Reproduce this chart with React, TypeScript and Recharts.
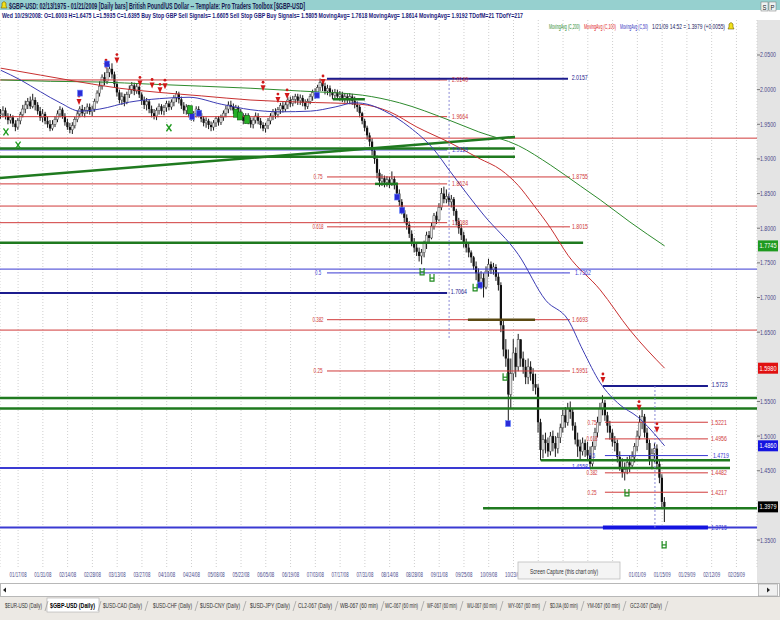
import React from 'react';
import { ComposedChart, Bar, Line, XAxis, YAxis, CartesianGrid, ReferenceLine, ReferenceDot } from 'recharts';

// daily bars, index 0 = 01/09/08 ... 268 = 01/21/09
const highs = [
  1.972, 1.976, 1.974, 1.966, 1.965, 1.963, 1.956, 1.959, 1.968, 1.978,
  1.984, 1.988, 1.990, 1.994, 1.989, 1.982, 1.975, 1.972, 1.968, 1.961,
  1.956, 1.956, 1.962, 1.970, 1.976, 1.974, 1.966, 1.958, 1.952, 1.953,
  1.961, 1.970, 1.976, 1.978, 1.975, 1.980, 1.980, 1.977, 1.987, 1.999,
  2.012, 2.022, 2.025, 2.032, 2.037, 2.038, 2.026, 2.012, 2.000, 1.996,
  1.994, 1.997, 2.006, 2.011, 2.010, 2.009, 2.006, 1.996, 1.990, 1.988,
  1.986, 1.977, 1.972, 1.974, 1.980, 1.979, 1.978, 1.984, 1.984, 1.986,
  1.992, 1.998, 1.997, 1.990, 1.982, 1.979, 1.978, 1.971, 1.969, 1.976,
  1.976, 1.970, 1.962, 1.960, 1.958, 1.954, 1.956, 1.962, 1.962, 1.964,
  1.970, 1.977, 1.983, 1.984, 1.980, 1.978, 1.977, 1.972, 1.966, 1.966,
  1.966, 1.960, 1.960, 1.967, 1.966, 1.959, 1.953, 1.952, 1.959, 1.966,
  1.972, 1.973, 1.975, 1.981, 1.982, 1.982, 1.989, 1.990, 1.991, 1.994,
  1.994, 1.993, 1.992, 1.986, 1.987, 1.994, 2.000, 2.002, 2.007, 2.016,
  2.013, 2.010, 2.007, 2.006, 2.000, 2.001, 2.000, 1.998, 1.997, 1.995,
  1.994, 1.995, 1.994, 1.990, 1.983, 1.978, 1.968, 1.958, 1.948, 1.938,
  1.930, 1.916, 1.905, 1.885, 1.878, 1.876, 1.875, 1.874, 1.882, 1.875,
  1.866, 1.856, 1.842, 1.830, 1.820, 1.810, 1.797, 1.786, 1.780, 1.772,
  1.770, 1.782, 1.795, 1.796, 1.808, 1.822, 1.824, 1.836, 1.858, 1.860,
  1.856, 1.850, 1.848, 1.845, 1.828, 1.815, 1.806, 1.795, 1.785, 1.778,
  1.768, 1.760, 1.752, 1.742, 1.738, 1.735, 1.745, 1.756, 1.752, 1.750,
  1.748, 1.736, 1.722, 1.668, 1.640, 1.625, 1.612, 1.640, 1.628, 1.6475,
  1.640, 1.622, 1.610, 1.612, 1.608, 1.598, 1.590, 1.575, 1.525, 1.502,
  1.505, 1.498, 1.506, 1.508, 1.500, 1.505, 1.518, 1.538, 1.542, 1.548,
  1.550, 1.540, 1.520, 1.505, 1.495, 1.498, 1.495, 1.492, 1.485, 1.492,
  1.512, 1.528, 1.548, 1.559, 1.552, 1.535, 1.522, 1.510, 1.500, 1.495,
  1.478, 1.468, 1.462, 1.470, 1.472, 1.478, 1.490, 1.508, 1.530, 1.538,
  1.532, 1.512, 1.495, 1.482, 1.490, 1.488, 1.465, 1.445, 1.412,
];
const lows = [
  1.958, 1.960, 1.957, 1.950, 1.951, 1.946, 1.940, 1.942, 1.950, 1.960,
  1.966, 1.972, 1.972, 1.973, 1.970, 1.964, 1.955, 1.953, 1.950, 1.945,
  1.940, 1.941, 1.946, 1.953, 1.960, 1.958, 1.948, 1.942, 1.937, 1.936,
  1.944, 1.953, 1.960, 1.962, 1.960, 1.965, 1.964, 1.962, 1.968, 1.980,
  1.990, 2.000, 2.006, 2.008, 2.018, 2.016, 2.003, 1.990, 1.980, 1.978,
  1.976, 1.979, 1.988, 1.994, 1.992, 1.994, 1.988, 1.978, 1.972, 1.970,
  1.966, 1.960, 1.957, 1.956, 1.964, 1.964, 1.963, 1.968, 1.970, 1.971,
  1.976, 1.982, 1.980, 1.972, 1.965, 1.964, 1.960, 1.955, 1.954, 1.960,
  1.960, 1.953, 1.947, 1.945, 1.943, 1.940, 1.941, 1.946, 1.948, 1.949,
  1.955, 1.960, 1.966, 1.970, 1.965, 1.963, 1.962, 1.957, 1.950, 1.951,
  1.950, 1.945, 1.944, 1.951, 1.950, 1.944, 1.940, 1.938, 1.943, 1.950,
  1.956, 1.958, 1.960, 1.965, 1.967, 1.968, 1.972, 1.975, 1.976, 1.980,
  1.978, 1.978, 1.976, 1.971, 1.972, 1.979, 1.984, 1.987, 1.990, 1.998,
  1.998, 1.993, 1.992, 1.990, 1.986, 1.987, 1.985, 1.984, 1.982, 1.981,
  1.980, 1.979, 1.978, 1.973, 1.968, 1.960, 1.950, 1.940, 1.928, 1.918,
  1.905, 1.893, 1.872, 1.860, 1.861, 1.859, 1.860, 1.858, 1.861, 1.856,
  1.845, 1.832, 1.820, 1.808, 1.798, 1.786, 1.774, 1.765, 1.760, 1.752,
  1.748, 1.758, 1.770, 1.778, 1.784, 1.798, 1.806, 1.810, 1.826, 1.836,
  1.836, 1.832, 1.830, 1.818, 1.804, 1.792, 1.783, 1.772, 1.765, 1.758,
  1.750, 1.740, 1.725, 1.715, 1.712, 1.700, 1.712, 1.730, 1.734, 1.733,
  1.724, 1.710, 1.650, 1.615, 1.600, 1.520, 1.540, 1.580, 1.585, 1.5935,
  1.600, 1.590, 1.575, 1.575, 1.580, 1.565, 1.560, 1.505, 1.465, 1.468,
  1.475, 1.470, 1.472, 1.478, 1.470, 1.475, 1.490, 1.505, 1.512, 1.515,
  1.525, 1.508, 1.488, 1.470, 1.465, 1.472, 1.470, 1.465, 1.452, 1.456,
  1.480, 1.498, 1.515, 1.530, 1.522, 1.505, 1.495, 1.485, 1.478, 1.462,
  1.450, 1.440, 1.436, 1.445, 1.448, 1.455, 1.462, 1.478, 1.495, 1.510,
  1.498, 1.480, 1.458, 1.452, 1.462, 1.452, 1.432, 1.395, 1.376,
];
const closes = [
  1.965, 1.970, 1.962, 1.956, 1.960, 1.951, 1.946, 1.955, 1.964, 1.972,
  1.978, 1.983, 1.976, 1.985, 1.978, 1.969, 1.960, 1.965, 1.955, 1.950,
  1.944, 1.950, 1.957, 1.965, 1.971, 1.962, 1.953, 1.946, 1.942, 1.948,
  1.957, 1.965, 1.972, 1.966, 1.970, 1.975, 1.968, 1.972, 1.983, 1.995,
  2.005, 2.018, 2.012, 2.025, 2.030, 2.022, 2.008, 1.996, 1.985, 1.990,
  1.982, 1.993, 2.000, 2.006, 1.998, 2.004, 1.993, 1.985, 1.978, 1.983,
  1.972, 1.966, 1.962, 1.970, 1.976, 1.969, 1.974, 1.980, 1.975, 1.982,
  1.988, 1.994, 1.986, 1.977, 1.970, 1.975, 1.966, 1.960, 1.965, 1.972,
  1.966, 1.958, 1.952, 1.955, 1.949, 1.946, 1.952, 1.958, 1.953, 1.960,
  1.966, 1.972, 1.978, 1.975, 1.970, 1.974, 1.968, 1.962, 1.955, 1.962,
  1.956, 1.950, 1.956, 1.962, 1.955, 1.949, 1.944, 1.948, 1.955, 1.962,
  1.968, 1.964, 1.971, 1.977, 1.972, 1.978, 1.985, 1.980, 1.986, 1.990,
  1.984, 1.988, 1.981, 1.976, 1.983, 1.990, 1.996, 1.992, 2.003, 2.010,
  2.005, 1.998, 2.002, 1.996, 1.992, 1.996, 1.990, 1.993, 1.987, 1.990,
  1.985, 1.990, 1.984, 1.978, 1.975, 1.966, 1.955, 1.945, 1.934, 1.925,
  1.912, 1.900, 1.880, 1.868, 1.872, 1.866, 1.870, 1.864, 1.871, 1.862,
  1.850, 1.838, 1.826, 1.815, 1.805, 1.792, 1.780, 1.772, 1.766, 1.760,
  1.765, 1.778, 1.790, 1.786, 1.803, 1.818, 1.812, 1.830, 1.850, 1.842,
  1.846, 1.838, 1.842, 1.825, 1.810, 1.800, 1.790, 1.778, 1.772, 1.765,
  1.758, 1.745, 1.735, 1.722, 1.728, 1.715, 1.738, 1.748, 1.740, 1.744,
  1.730, 1.718, 1.660, 1.625, 1.612, 1.560, 1.590, 1.620, 1.600, 1.6395,
  1.612, 1.600, 1.585, 1.600, 1.590, 1.575, 1.570, 1.520, 1.480, 1.495,
  1.490, 1.478, 1.500, 1.490, 1.482, 1.498, 1.512, 1.530, 1.520, 1.540,
  1.535, 1.515, 1.495, 1.485, 1.478, 1.490, 1.480, 1.472, 1.460, 1.485,
  1.505, 1.520, 1.540, 1.548, 1.530, 1.515, 1.505, 1.492, 1.490, 1.470,
  1.455, 1.448, 1.452, 1.462, 1.458, 1.470, 1.485, 1.500, 1.520, 1.528,
  1.505, 1.490, 1.465, 1.475, 1.482, 1.460, 1.440, 1.405, 1.398,
];

// moving averages: [bar index, value]
const ma200 = [[0, 2.014], [20, 2.012], [40, 2.011], [60, 2.008], [81, 2.005], [101, 2.002], [121, 1.998], [146, 1.992], [161, 1.981], [181, 1.956], [193, 1.939], [209, 1.9192], [222, 1.891], [234, 1.861], [242, 1.841], [254, 1.809], [268, 1.7745]];
const ma100 = [[0, 2.031], [16, 2.021], [32, 2.011], [48, 2.002], [64, 1.996], [81, 1.991], [101, 1.985], [121, 1.982], [145, 1.979], [157, 1.968], [168, 1.946], [181, 1.924], [193, 1.901], [202, 1.884], [209, 1.8614], [215, 1.834], [222, 1.8], [229, 1.761], [242, 1.711], [254, 1.653], [268, 1.598]];
const ma50 = [[0, 2.028], [8, 2.014], [16, 1.997], [24, 1.981], [32, 1.969], [40, 1.972], [52, 1.982], [64, 1.987], [76, 1.989], [89, 1.979], [101, 1.971], [113, 1.968], [125, 1.969], [135, 1.975], [143, 1.981], [149, 1.978], [155, 1.969], [165, 1.946], [175, 1.913], [181, 1.884], [195, 1.819], [209, 1.7618], [220, 1.696], [229, 1.668], [235, 1.624], [242, 1.577], [250, 1.545], [257, 1.528], [268, 1.486]];

const dateTicks = [7, 17, 27, 37, 47, 57, 67, 77, 87, 97, 107, 117, 127, 137, 147, 157, 167, 177, 187, 197, 207, 217, 227, 237, 247, 257, 267, 277, 287, 297];
// the four labels under the "Screen Capture" popup are not visible
const dateLabels = ['01/17/08', '01/31/08', '02/14/08', '02/28/08', '03/13/08', '03/27/08', '04/10/08', '04/24/08', '05/08/08', '05/22/08', '06/05/08', '06/19/08', '07/03/08', '07/17/08', '07/31/08', '08/14/08', '08/28/08', '09/11/08', '09/25/08', '10/09/08', '10/23/08', '', '', '', '', '01/01/09', '01/15/09', '01/29/09', '02/12/09', '02/26/09'];
// 1.4000 and 1.6000 sit under the value boxes
const priceTicks = [1.35, 1.45, 1.5, 1.55, 1.65, 1.7, 1.75, 1.8, 1.85, 1.9, 1.95, 2.0, 2.05];

// price levels (bar-index ranges)
const leftRange = [-0.3, 180.2];
const leftRed = [2.014, 1.961, 1.864, 1.808];
const leftRedTxt = ['2.0140', '1.9664', '1.8624', '1.8088'];
const fib1Range = [131.7, 229.8];
const fib1Red = [1.874, 1.802, 1.668, 1.594];
const fib1RedTxt = ['1.8755', '1.8015', '1.6693', '1.5951'];
const fib2Range = [243.9, 285.5];
const fib2Red = [1.52, 1.496, 1.447, 1.419];
const fib2RedTxt = ['1.5221', '1.4956', '1.4482', '1.4217'];
const ratioTxt = ['0.75', '0.618', '0.382', '0.25'];
const fullRed = [1.93, 1.832, 1.653];
const fullBlue = [1.741, 1.368];
const fullGreen = [1.555, 1.54];
// [from, to, price, label]
const blueSegs: [number, number, number, string][] = [
  [-0.3, 180.2, 1.913, '1.9119'],
  [131.7, 229.8, 1.7355, '1.7362'],
  [243.9, 285.5, 1.4719, '1.4719'],
];
const navySegs: [number, number, number, string][] = [
  [131.7, 229.0, 2.0157, '2.0157'],
  [-0.3, 180.2, 1.7065, '1.7064'],
  [243.1, 285.5, 1.5723, '1.5723'],
  [-0.3, 237.9, 1.454, '1.4558'],
];
const greenSegs: [number, number, number, number][] = [
  [-0.3, 207.6, 1.915, 1.915],
  [-0.3, 207.6, 1.903, 1.903],
  [-0.3, 207.6, 1.8725, 1.9318],
  [151.1, 160.4, 1.864, 1.864],
  [134.1, 147.0, 1.986, 1.986],
  [-0.3, 235.1, 1.779, 1.779],
  [218.0, 294.4, 1.465, 1.465],
  [237.9, 294.4, 1.454, 1.454],
  [194.7, 305.3, 1.396, 1.396],
];
const oliveSeg = [188.6, 215.7, 1.668];

const sellSignals = [[31.6, 1.982], [42.5, 2.034], [46.9, 2.042], [56.2, 2.009], [61.1, 2.006], [64.3, 1.999], [66.3, 2.005], [105.9, 2.002], [111.9, 1.985], [115.6, 1.991], [130.1, 2.011], [243.1, 1.581], [257.7, 1.541], [264.9, 1.509]];
const blueMarks = [[32.0, 1.995], [42.9, 2.037], [77.2, 1.961], [80.0, 1.966], [127.7, 1.992], [160.0, 1.845], [162.0, 1.826], [193.5, 1.718], [204.8, 1.518]];
const greenX = [[2.1, 1.939], [7.0, 1.92], [67.9, 1.945]];
const greenBoxes = [[76.4, 1.971], [95.0, 1.966], [96.5, 1.962], [99.4, 1.957]];
const greenH = [[170.1, 1.737], [174.1, 1.728], [191.5, 1.714], [203.6, 1.585], [252.8, 1.418], [267.8, 1.343]];
const lastBoxes: [number, string, string][] = [
  [1.7745, '1.7745', '#1f9a1f'],
  [1.598, '1.5980', '#e01010'],
  [1.486, '1.4860', '#1414e0'],
  [1.3979, '1.3979', '#000000'],
];

const tabNames = ['$EUR-USD (Daily)', '$GBP-USD (Daily)', '$USD-CAD (Daily)', '$USD-CHF (Daily)', '$USD-CNY (Daily)', '$USD-JPY (Daily)', 'CL2-067 (Daily)', 'WB-067 (60 min)', 'WC-067 (60 min)', 'WF-067 (60 min)', 'WU-067 (60 min)', 'WY-067 (60 min)', '$DJIA (60 min)', 'YM-067 (60 min)', 'GC2-067 (Daily)'];
const tabSpan = [[5, 42], [50, 95], [103, 142], [153, 192], [200, 240], [250, 290], [298, 332], [340, 378], [385, 418], [427, 457], [467, 497], [508, 540], [550, 578], [587, 620], [630, 662]];

const rows: any[] = closes.map((c, i) => ({ i, h: highs[i], l: lows[i], c, o: i ? closes[i - 1] : c, m50: null, m100: null, m200: null }));
ma50.forEach(([i, v]) => { rows[i].m50 = v; });
ma100.forEach(([i, v]) => { rows[i].m100 = v; });
ma200.forEach(([i, v]) => { rows[i].m200 = v; });

const FONT = "'Liberation Sans Narrow','Arial Narrow','Liberation Sans',Arial,sans-serif";
const RED = '#d03a3a';
const BLUE = '#3a3ad2';
const NAVY = '#1c1c8e';
const GREEN = '#1f7a1f';

// squeezed text: scaled horizontally so its box is exactly w wide
const T = ({ x, y, w, s = 7, c = '#222', b = false, a = 'start', children }: any) => {
  const txt = String(children);
  if (!txt) return null;
  const nat = txt.length * s * (b ? 0.56 : 0.5);
  const sx = Math.min(1, w / nat);
  return (
    <text transform={`translate(${x},${y}) scale(${sx},1)`} fontSize={s} fill={c} fontWeight={b ? 700 : 400}
      fontFamily={FONT} textAnchor={a} textLength={w / sx} lengthAdjust="spacingAndGlyphs">{txt}</text>
  );
};

const Candle = (p: any) => {
  const { x, y, width, height, payload } = p;
  if (!payload || !Number.isFinite(y) || !Number.isFinite(height)) return null;
  const top = height < 0 ? y + height : y;
  const hgt = Math.abs(height);
  const cx = x + width / 2;
  const span = payload.h - payload.l || 1e-4;
  const at = (v: number) => top + ((payload.h - Math.min(Math.max(v, payload.l), payload.h)) / span) * hgt;
  const yo = at(payload.o);
  const yc = at(payload.c);
  const up = payload.c >= payload.o;
  return (
    <g>
      <line x1={cx} x2={cx} y1={top} y2={top + hgt} stroke="#1a1a1a" strokeWidth={1} />
      <rect x={cx - 1.1} y={Math.min(yo, yc)} width={2.2} height={Math.max(Math.abs(yo - yc), 1)}
        fill={up ? '#e6e6e6' : '#111'} stroke={up ? '#444' : 'none'} strokeWidth={0.5} />
    </g>
  );
};

const lbl = (t: string, c: string, w = 16, a = 'start') => (p: any) => (
  <T x={p.cx} y={p.cy + 2.5} w={w} c={c} a={a}>{t}</T>
);
const ratioW = (t: string) => (t.length === 5 ? 11 : t.length === 4 ? 9 : 6);

const sellShape = (p: any) => (
  <g>
    <circle cx={p.cx} cy={p.cy - 6} r={1.4} fill="#d01818" />
    <path d={`M${p.cx - 2.5},${p.cy - 3} L${p.cx + 2.5},${p.cy - 3} L${p.cx},${p.cy + 3} Z`} fill="#d01818" />
  </g>
);
const blueShape = (p: any) => (
  <rect x={p.cx - 2.5} y={p.cy - 3} width={5} height={6} fill="#2b2bd8" stroke="#6a8cff" strokeWidth={0.6} />
);
const greenBoxShape = (p: any) => (
  <rect x={p.cx - 2.5} y={p.cy - 4} width={5} height={8} fill="#26b026" stroke="#106010" strokeWidth={0.6} />
);
const xShape = (p: any) => (
  <g stroke="#1f9a1f" strokeWidth={1.3}>
    <line x1={p.cx - 2.5} y1={p.cy - 3.5} x2={p.cx + 2.5} y2={p.cy + 3.5} />
    <line x1={p.cx + 2.5} y1={p.cy - 3.5} x2={p.cx - 2.5} y2={p.cy + 3.5} />
  </g>
);
const hShape = (p: any) => (
  <g stroke="#1f8a1f" strokeWidth={1.2} fill="none">
    <path d={`M${p.cx - 2},${p.cy - 4} L${p.cx - 2},${p.cy + 3} L${p.cx + 2},${p.cy + 3} L${p.cx + 2},${p.cy - 4}`} />
    <line x1={p.cx - 2} x2={p.cx + 2} y1={p.cy} y2={p.cy} />
  </g>
);
const boxShape = (t: string, bg: string) => (p: any) => (
  <g>
    <rect x={p.cx + 1} y={p.cy - 5.5} width={20} height={11} fill={bg} />
    <T x={p.cx + 11} y={p.cy + 2.5} w={17} c="#fff" a="middle">{t}</T>
  </g>
);

const Bell = ({ x, y }: any) => (
  <path d={`M${x + 1},${y + 8} L${x + 2},${y + 6} L${x + 2},${y + 3} Q${x + 4},${y} ${x + 6},${y + 3} L${x + 6},${y + 6} L${x + 7},${y + 8} Z`}
    fill="#f2e21c" stroke="#6b5a00" strokeWidth={0.6} />
);

export default function App() {
  return (
    <div style={{ position: 'absolute', left: 0, top: 0, width: 780, height: 620, background: '#fff', overflow: 'hidden' }}>
      <div style={{ position: 'absolute', left: 0, top: 0, width: 780, height: 10, background: '#96d0cf' }} />
      <div style={{ position: 'absolute', left: 757, top: 20, width: 23, height: 563, background: '#e4e4e4' }} />
      <div style={{ position: 'absolute', left: 0, top: 0 }}>
        <ComposedChart width={780} height={620} data={rows} margin={{ top: 20, right: 0, bottom: 0, left: 0 }}>
          <CartesianGrid horizontal={false} stroke="#cfcfcf" strokeDasharray="1 2" />
          <XAxis type="number" dataKey="i" domain={[-0.3, 305.3]} ticks={dateTicks} interval={0} allowDataOverflow
            height={53} axisLine={false} tickLine={false}
            tick={(p: any) => <T x={p.x} y={577} w={17} c="#4b4b8c" a="middle">{dateLabels[dateTicks.indexOf(p.payload.value)]}</T>} />
          <YAxis orientation="right" width={23} domain={[1.3111, 2.1005]} ticks={priceTicks} interval={0} allowDataOverflow
            axisLine={false} tickSize={3} tickMargin={0} tickLine={{ stroke: '#777' }}
            tick={(p: any) => <T x={760} y={p.y + 2.5} w={16} c="#4b4b8c">{Number(p.payload.value).toFixed(4)}</T>} />

          {fullRed.map((v) => <ReferenceLine key={'fr' + v} y={v} stroke={RED} strokeWidth={1} />)}
          {fullBlue.map((v, k) => <ReferenceLine key={'fb' + v} y={v} stroke={BLUE} strokeWidth={k ? 2 : 1} />)}
          {fullGreen.map((v) => <ReferenceLine key={'fg' + v} y={v} stroke={GREEN} strokeWidth={2.5} />)}
          {leftRed.map((v) => <ReferenceLine key={'lr' + v} ifOverflow="visible" segment={[{ x: leftRange[0], y: v }, { x: leftRange[1], y: v }]} stroke={RED} />)}
          {fib1Red.map((v) => <ReferenceLine key={'f1' + v} ifOverflow="visible" segment={[{ x: fib1Range[0], y: v }, { x: fib1Range[1], y: v }]} stroke={RED} />)}
          {fib2Red.map((v) => <ReferenceLine key={'f2' + v} ifOverflow="visible" segment={[{ x: fib2Range[0], y: v }, { x: fib2Range[1], y: v }]} stroke={RED} />)}
          {blueSegs.map(([a, b, v]) => <ReferenceLine key={'bs' + v} ifOverflow="visible" segment={[{ x: a, y: v }, { x: b, y: v }]} stroke={BLUE} />)}
          {navySegs.map(([a, b, v]) => <ReferenceLine key={'ns' + v} ifOverflow="visible" segment={[{ x: a, y: v }, { x: b, y: v }]} stroke={v === 1.454 ? BLUE : NAVY} strokeWidth={2} />)}
          <ReferenceLine ifOverflow="visible" segment={[{ x: 243.1, y: 1.368 }, { x: 285.5, y: 1.368 }]} stroke="#1414e0" strokeWidth={4} />
          {greenSegs.map(([a, b, v1, v2]) => <ReferenceLine key={'gs' + a + v1} ifOverflow="visible" segment={[{ x: a, y: v1 }, { x: b, y: v2 }]} stroke={GREEN} strokeWidth={2.5} />)}
          <ReferenceLine ifOverflow="visible" segment={[{ x: oliveSeg[0], y: oliveSeg[2] }, { x: oliveSeg[1], y: oliveSeg[2] }]} stroke="#5c4a12" strokeWidth={2.5} />
          <ReferenceLine ifOverflow="visible" segment={[{ x: 181.0, y: 2.014 }, { x: 181.0, y: 1.639 }]} stroke="#8a8ad6" strokeDasharray="2 2" />
          <ReferenceLine ifOverflow="visible" segment={[{ x: 264.1, y: 1.5723 }, { x: 264.1, y: 1.368 }]} stroke="#8a8ad6" strokeDasharray="2 2" />

          <Bar dataKey={(d: any) => [d.l, d.h]} barSize={2} shape={Candle} isAnimationActive={false} />
          <Line dataKey="m200" type="monotone" stroke="#2e8b2e" strokeWidth={1} dot={false} connectNulls isAnimationActive={false} />
          <Line dataKey="m100" type="monotone" stroke="#c83030" strokeWidth={1} dot={false} connectNulls isAnimationActive={false} />
          <Line dataKey="m50" type="monotone" stroke="#3c3cb4" strokeWidth={1} dot={false} connectNulls isAnimationActive={false} />

          {leftRed.map((v, k) => <ReferenceDot key={'lt' + k} x={182.2} y={v} r={0} ifOverflow="visible" shape={lbl(leftRedTxt[k], RED)} />)}
          {fib1Red.map((v, k) => <ReferenceDot key={'a1' + k} x={230.6} y={v} r={0} ifOverflow="visible" shape={lbl(fib1RedTxt[k], RED)} />)}
          {fib1Red.map((v, k) => <ReferenceDot key={'r1' + k} x={128.1} y={v} r={0} ifOverflow="visible" shape={lbl(ratioTxt[k], RED, ratioW(ratioTxt[k]), 'middle')} />)}
          {fib2Red.map((v, k) => <ReferenceDot key={'a2' + k} x={286.7} y={v} r={0} ifOverflow="visible" shape={lbl(fib2RedTxt[k], RED)} />)}
          {fib2Red.map((v, k) => <ReferenceDot key={'r2' + k} x={238.7} y={v} r={0} ifOverflow="visible" shape={lbl(ratioTxt[k], RED, ratioW(ratioTxt[k]), 'middle')} />)}
          <ReferenceDot x={128.1} y={1.7355} r={0} ifOverflow="visible" shape={lbl('0.5', BLUE, 6, 'middle')} />
          <ReferenceDot x={238.7} y={1.4719} r={0} ifOverflow="visible" shape={lbl('0.5', BLUE, 6, 'middle')} />
          {blueSegs.map(([, b, v, t]) => <ReferenceDot key={'bt' + v} x={b + 2} y={v} r={0} ifOverflow="visible" shape={lbl(t, BLUE)} />)}
          {navySegs.map(([, b, v, t]) => <ReferenceDot key={'nt' + v} x={v === 1.454 ? 230.6 : b + 1.5} y={v + 0.0015} r={0} ifOverflow="visible" shape={lbl(t, v === 1.454 ? BLUE : NAVY)} />)}
          <ReferenceDot x={286.7} y={1.368} r={0} ifOverflow="visible" shape={lbl('1.3715', BLUE)} />

          {sellSignals.map(([i, v]) => <ReferenceDot key={'s' + i} x={i} y={v} r={0} ifOverflow="visible" shape={sellShape} />)}
          {blueMarks.map(([i, v]) => <ReferenceDot key={'b' + i} x={i} y={v} r={0} ifOverflow="visible" shape={blueShape} />)}
          {greenBoxes.map(([i, v]) => <ReferenceDot key={'g' + i} x={i} y={v} r={0} ifOverflow="visible" shape={greenBoxShape} />)}
          {greenX.map(([i, v]) => <ReferenceDot key={'x' + i} x={i} y={v} r={0} ifOverflow="visible" shape={xShape} />)}
          {greenH.map(([i, v]) => <ReferenceDot key={'h' + i} x={i} y={v} r={0} ifOverflow="visible" shape={hShape} />)}
          {lastBoxes.map(([v, t, bg]) => <ReferenceDot key={'lb' + t} x={305.3} y={v} r={0} ifOverflow="visible" shape={boxShape(t, bg)} />)}
        </ComposedChart>
      </div>

      <svg width={780} height={620} style={{ position: 'absolute', left: 0, top: 0, pointerEvents: 'none' }}>
        <Bell x={0} y={0} />
        <T x={9} y={8.5} w={296} s={8.5} c="#1a1a50" b>$GBP-USD: 02/13/1975 - 01/21/2009 [Daily bars] British Pound/US Dollar -- Template: Pro Traders Toolbox [$GBP-USD]</T>
        <rect x={761} y={2} width={7} height={9} fill="#eef3f3" stroke="#777" strokeWidth={0.5} />
        <rect x={769} y={2} width={7} height={9} fill="#eef3f3" stroke="#777" strokeWidth={0.5} />
        <T x={764.5} y={9.5} w={4} s={7} c="#222" a="middle">S</T>
        <T x={772.5} y={9.5} w={4} s={7} c="#222" a="middle">P</T>
        <T x={2} y={18} w={521} s={8} c="#1c1c7c" b>Wed 10/29/2008: O=1.6003 H=1.6475 L=1.5935 C=1.6395 Buy Stop GBP Sell Signals= 1.6605 Sell Stop GBP Buy Signals= 1.5805 MovingAvg= 1.7618 MovingAvg= 1.8614 MovingAvg= 1.9192 TDofM=21 TDofY=217</T>
        <T x={549} y={29} w={31} c="#2c8a2c">MovingAvg (C,200)</T>
        <T x={584} y={29} w={32} c="#e02020">MovingAvg (C,100)</T>
        <T x={620} y={29} w={28} c="#3030c0">MovingAvg (C,50)</T>
        <T x={652} y={29} w={73} c="#202060">1/21/09 14:52 = 1.3979 (+0.0055)</T>
        <Bell x={727} y={21} />

        <rect x={518} y={562} width={102} height={17} fill="#f4f4f4" stroke="#bdbdbd" strokeWidth={0.8} />
        <T x={530} y={573.5} w={68} s={7} c="#333">Screen Capture (this chart only)</T>

        <rect x={0.5} y={583.5} width={779} height={13} fill="#fff" stroke="#b8b8b8" />
        <path d="M3,590 L6,587.5 L6,592.5 Z" fill="#222" />
        <rect x={758.5} y={584} width={19} height={12} fill="#f0f0f0" stroke="#999" strokeWidth={0.6} />
        <path d="M770,590 L767,587.5 L767,592.5 Z" fill="#222" />
        <rect x={0} y={597} width={780} height={23} fill="#ece9e4" />
        <rect x={47} y={598} width={52} height={14} fill="#fff" stroke="#aaa" strokeWidth={0.6} />
        {tabNames.map((t, k) => (
          <g key={t}>
            <T x={tabSpan[k][0]} y={608} w={tabSpan[k][1] - tabSpan[k][0]} s={7.5} c={k === 1 ? '#000' : '#333'} b={k === 1}>{t}</T>
            <line x1={tabSpan[k][1] + 3} y1={611} x2={tabSpan[k][1] + 6} y2={601} stroke="#999" strokeWidth={0.7} />
          </g>
        ))}
      </svg>
    </div>
  );
}
